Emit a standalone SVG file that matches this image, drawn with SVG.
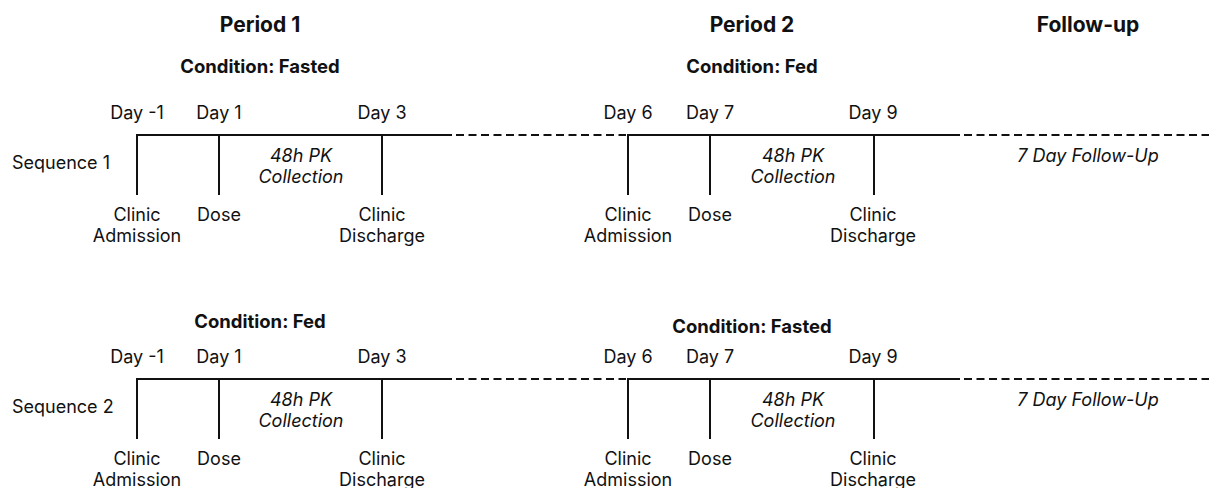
<svg xmlns="http://www.w3.org/2000/svg" width="1209" height="488" viewBox="0 0 1209 488">
<style>
text{font-family:Inter,"Liberation Sans",sans-serif;fill:#111;}
.title{font-size:21px;font-weight:700;text-anchor:middle;}
.cond{font-size:18.5px;font-weight:700;text-anchor:middle;}
.lbl{font-size:18px;text-anchor:middle;}
.seq{font-size:18px;}
.it{font-size:18px;font-style:italic;text-anchor:middle;}
.solid{stroke:#111;stroke-width:2;fill:none;}
.dash{stroke:#111;stroke-width:2;fill:none;stroke-dasharray:8 4.5;}
</style>
<rect width="1209" height="488" fill="#fff"/>
<g id="headers">
<text class="title" x="260" y="32">Period 1</text>
<text class="title" x="752" y="32">Period 2</text>
<text class="title" x="1088" y="32">Follow-up</text>
</g>
<g id="connectors">
<path class="solid" d="M137 195V135H452"/>
<path class="dash" d="M456 135H626"/>
<path class="solid" d="M219 135V195M382 135V195M628 195V135H960M710 135V195M874 135V195"/>
<path class="dash" d="M964 135H1209"/>
<path class="solid" d="M137 439V379H452"/>
<path class="dash" d="M456 379H626"/>
<path class="solid" d="M219 379V439M382 379V439M628 439V379H960M710 379V439M874 379V439"/>
<path class="dash" d="M964 379H1209"/>
</g>
<g id="sequence1">
<text class="seq" x="12" y="169">Sequence 1</text>
<text class="cond" x="260" y="73">Condition: Fasted</text>
<text class="cond" x="752" y="73">Condition: Fed</text>
<text class="lbl" x="137" y="119">Day -1</text>
<text class="lbl" x="219" y="119">Day 1</text>
<text class="lbl" x="382" y="119">Day 3</text>
<text class="lbl" x="628" y="119">Day 6</text>
<text class="lbl" x="710" y="119">Day 7</text>
<text class="lbl" x="873" y="119">Day 9</text>
<text class="it" x="301" y="162">48h PK</text>
<text class="it" x="301" y="183">Collection</text>
<text class="it" x="793" y="162">48h PK</text>
<text class="it" x="793" y="183">Collection</text>
<text class="it" x="1088" y="162">7 Day Follow-Up</text>
<text class="lbl" x="137" y="221">Clinic</text>
<text class="lbl" x="137" y="242">Admission</text>
<text class="lbl" x="219" y="221">Dose</text>
<text class="lbl" x="382" y="221">Clinic</text>
<text class="lbl" x="382" y="242">Discharge</text>
<text class="lbl" x="628" y="221">Clinic</text>
<text class="lbl" x="628" y="242">Admission</text>
<text class="lbl" x="710" y="221">Dose</text>
<text class="lbl" x="873" y="221">Clinic</text>
<text class="lbl" x="873" y="242">Discharge</text>
</g>
<g id="sequence2">
<text class="seq" x="12" y="413">Sequence 2</text>
<text class="cond" x="260" y="328">Condition: Fed</text>
<text class="cond" x="752" y="333">Condition: Fasted</text>
<text class="lbl" x="137" y="363">Day -1</text>
<text class="lbl" x="219" y="363">Day 1</text>
<text class="lbl" x="382" y="363">Day 3</text>
<text class="lbl" x="628" y="363">Day 6</text>
<text class="lbl" x="710" y="363">Day 7</text>
<text class="lbl" x="873" y="363">Day 9</text>
<text class="it" x="301" y="406">48h PK</text>
<text class="it" x="301" y="427">Collection</text>
<text class="it" x="793" y="406">48h PK</text>
<text class="it" x="793" y="427">Collection</text>
<text class="it" x="1088" y="406">7 Day Follow-Up</text>
<text class="lbl" x="137" y="465">Clinic</text>
<text class="lbl" x="137" y="486">Admission</text>
<text class="lbl" x="219" y="465">Dose</text>
<text class="lbl" x="382" y="465">Clinic</text>
<text class="lbl" x="382" y="486">Discharge</text>
<text class="lbl" x="628" y="465">Clinic</text>
<text class="lbl" x="628" y="486">Admission</text>
<text class="lbl" x="710" y="465">Dose</text>
<text class="lbl" x="873" y="465">Clinic</text>
<text class="lbl" x="873" y="486">Discharge</text>
</g>
</svg>
